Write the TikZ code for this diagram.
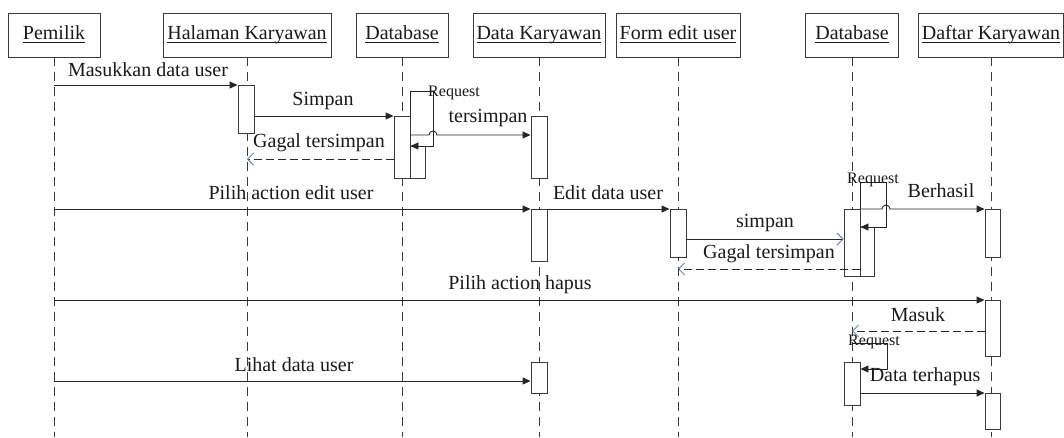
\documentclass[tikz,border=0pt]{standalone}
\usepackage{fontspec}
\setmainfont{Liberation Serif}
\usetikzlibrary{arrows.meta}
\definecolor{linec}{HTML}{3A3A3A}
\definecolor{textc}{HTML}{1A1A1A}
\definecolor{tipc}{HTML}{4F74B8}
% underline at a fixed distance below the baseline
\newcommand{\hdul}[1]{{\setbox0\hbox{#1}\rlap{\rule[-3.5pt]{\wd0}{1.1pt}}\box0}}
\tikzset{
  head/.style={draw=linec, line width=0.9pt, minimum height=44, inner sep=0,
    text height=14pt, text depth=5pt,
    text=textc, font=\fontsize{20}{22}\selectfont},
  life/.style={draw=linec, line width=0.9pt, dash pattern=on 9pt off 6pt},
  act/.style={draw=linec, line width=0.9pt, fill=white, minimum width=16,
    minimum height=#1, anchor=north, inner sep=0},
  sync/.style={draw=black!85, line width=0.9pt, -{Triangle[length=8pt,width=7pt]}},
  async/.style={draw=black!85, line width=0.9pt, -{Straight Barb[length=6pt,width=12pt,color=tipc,line width=0.8pt]}},
  ret/.style={draw=black!85, line width=0.9pt, dash pattern=on 8pt off 4pt,
    -{Straight Barb[length=6pt,width=12pt,color=tipc,line width=0.8pt]}},
  lbl/.style={inner sep=0, text=textc, font=\fontsize{20}{22}\selectfont},
  lblsmall/.style={inner sep=0, text=textc, font=\fontsize{16}{18}\selectfont},
}
\begin{document}
\begin{tikzpicture}[x=1pt, y=-1pt]
\useasboundingbox (0,0) rectangle (1064,437);
\fill[white] (0,0) rectangle (1064,437);

% participants
\node[head, minimum width=92]  (pem) at (54,35)    {\hdul{Pemilik}};
\node[head, minimum width=168] (hal) at (247,35)   {\hdul{Halaman Karyawan}};
\node[head, minimum width=92]  (db1) at (402,35)   {\hdul{Database}};
\node[head, minimum width=132] (dk)  at (539,35)   {\hdul{Data Karyawan}};
\node[head, minimum width=124] (frm) at (678,35)   {\hdul{Form edit user}};
\node[head, minimum width=93]  (db2) at (852,35)   {\hdul{Database}};
\node[head, minimum width=145] (dft) at (991,35)   {\hdul{Daftar Karyawan}};

% lifelines
\foreach \p in {pem,hal,db1,dk,frm,db2,dft}
  \draw[life] (\p.south) -- (\p.south |- 0,437);

% activation bars
\node[act=48] (a2)  at (246,85)  {};
\node[act=62] (a3)  at (402,116) {};
\node[act=32, minimum width=15, anchor=north west] (a3n) at (a3.east |- 0,146) {};
\node[act=62] (a4)  at (539,116) {};
\node[act=52] (a4b) at (539,209) {};
\node[act=48] (a5)  at (678,209) {};
\node[act=67] (a6)  at (852,209) {};
\node[act=49, minimum width=14, anchor=north west] (a6n) at (a6.east |- 0,227) {};
\node[act=48, minimum width=15] (a7)  at (992.5,209) {};
\node[act=56, minimum width=15] (a7b) at (992.5,300) {};
\node[act=43] (a6c) at (852,362) {};
\node[act=36, minimum width=15] (a7c) at (992.5,393) {};
\node[act=31] (a4c) at (539,362) {};

% messages
\draw[sync] (pem.south |- a2.north) -- (a2.north west);
\draw[sync] (a2.east |- a3.north) -- (a3.north west);
\draw[sync] (a3.north east) -- ++(0,-25) -- ++(23,0) |- (a3n.north west);
\draw[sync] (a3.east |- 0,135) -- (429,135) arc (180:360:4) -- (a4.west |- 0,135);
\draw[ret]  (a3.west |- 0,159) -- (hal.south |- 0,159);
\draw[sync] (pem.south |- a4b.north) -- (a4b.north west);
\draw[sync] (a4b.north east) -- (a5.north west);
\draw[async] (a5.east |- 0,239) -- (a6.west |- 0,239);
\draw[sync] (a6.north east) -- ++(0,-27) -- ++(26,0) |- (a6n.north west);
\draw[sync] (a6.north east) -- (882,209) arc (180:360:4) -- (a7.north west);
\draw[ret]  (a6.east |- 0,269) -- (frm.south |- 0,269);
\draw[sync] (pem.south |- a7b.north) -- (a7b.north west);
\draw[ret]  (a7b.west |- 0,331) -- (db2.south |- 0,331);
\draw[sync] (db2.south |- 0,343) -- ++(35,0) -- ++(0,26) -- (a6c.east |- 0,369);
\draw[sync] (a6c.east |- a7c.north) -- (a7c.north west);
\draw[sync] (pem.south |- 0,381) -- (a4c.west |- 0,381);

% message labels
\node[lbl] (l1)  at (148,70)  {Masukkan data user};
\node[lbl] (l2)  at (323,101) {Simpan};
\node[lblsmall] (l3) at (454,93) {Request};
\node[lbl] (l4)  at (488,118) {tersimpan};
\node[lbl] (l5)  at (319,143) {Gagal tersimpan};
\node[lbl] (l6)  at (291,193) {Pilih action edit user};
\node[lbl] (l7)  at (608,193) {Edit data user};
\node[lbl] (l8)  at (765,223) {simpan};
\node[lblsmall] (l9) at (873,180) {Request};
\node[lbl] (l10) at (941,191) {Berhasil};
\node[lbl] (l11) at (769,254) {Gagal tersimpan};
\node[lbl] (l12) at (520,285) {Pilih action hapus};
\node[lbl] (l13) at (918,315) {Masuk};
\node[lblsmall] (l14) at (874,342) {Request};
\node[lbl] (l15) at (925,377) {Data terhapus};
\node[lbl] (l16) at (294,365) {Lihat data user};
\end{tikzpicture}
\end{document}
